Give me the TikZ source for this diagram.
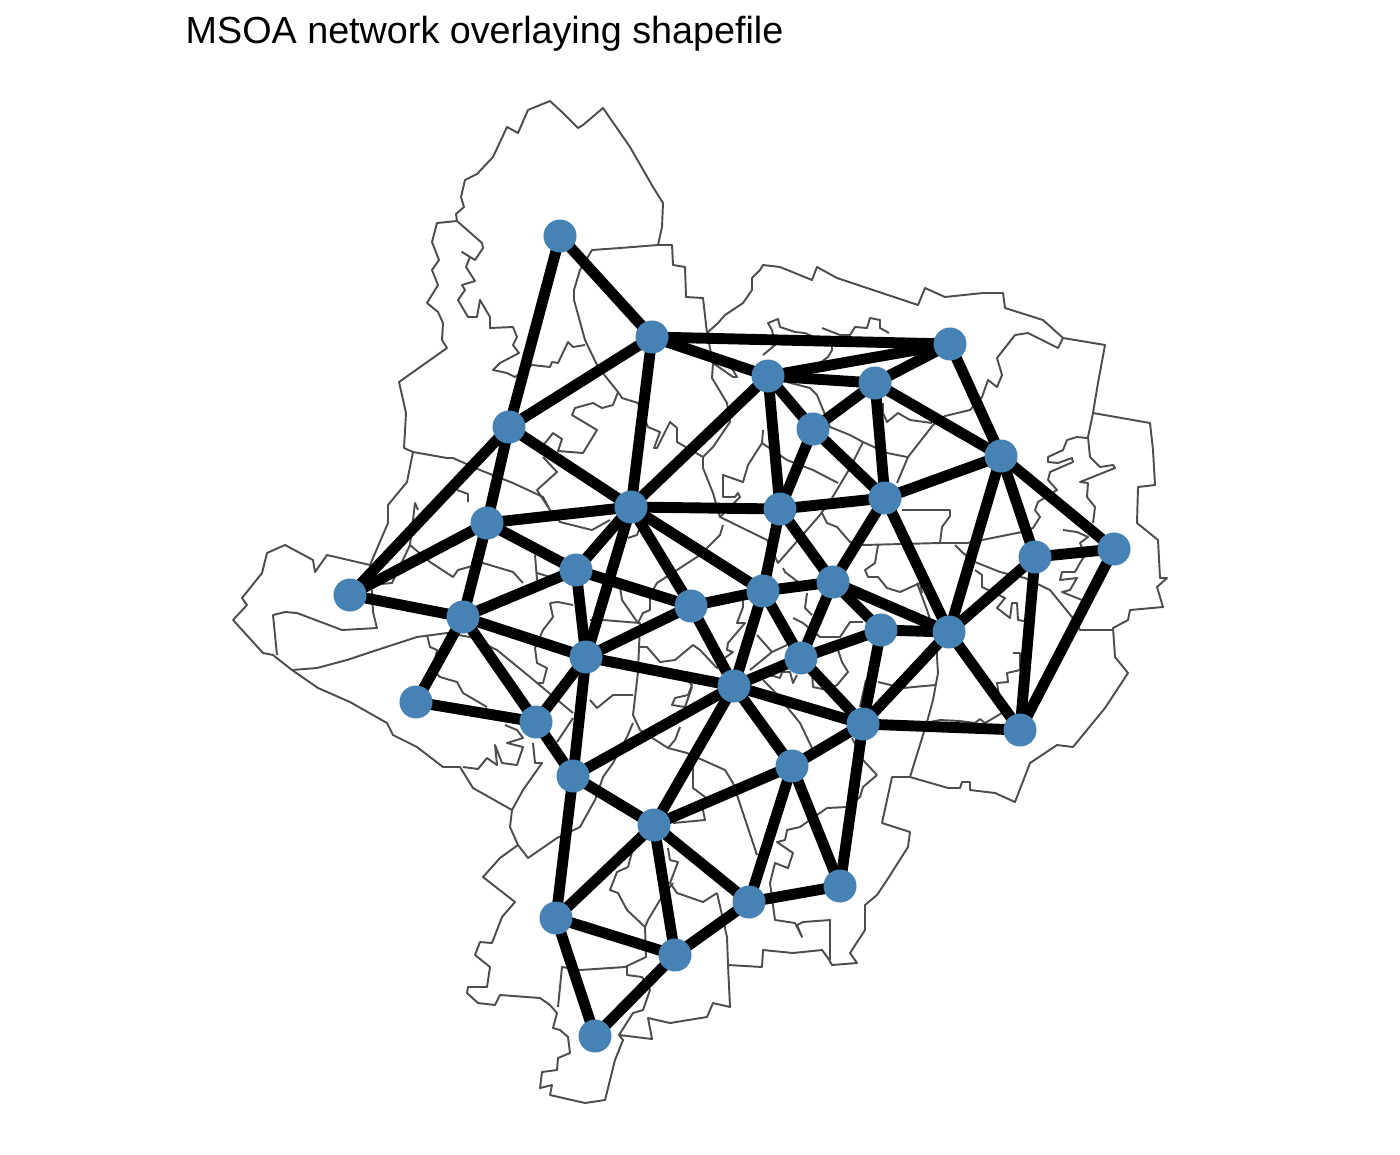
\documentclass[tikz,border=0pt]{standalone}
\usepackage{fontspec}
\setmainfont{Liberation Sans}
\usetikzlibrary{backgrounds}
\definecolor{steelblue}{RGB}{70,130,180}
\definecolor{shapegrey}{RGB}{77,77,77}
\tikzset{
    msoa/.style={circle, fill=steelblue, inner sep=0pt, outer sep=0pt, minimum size=0.33cm},
    link/.style={black, line width=3.1pt, shorten <=-3pt, shorten >=-3pt},
    boundary/.style={shapegrey, line width=0.55pt, line join=round},
    heading/.style={anchor=base west, inner sep=0pt, font=\fontsize{10.73pt}{12pt}\selectfont}
}

\begin{document}
\begin{tikzpicture}[x=0.01cm, y=-0.01cm]

    \useasboundingbox (0,0) rectangle (1400,1154);

    % ── Title ────────────────────────────────────────────────────────────────
    \node[heading] (title) at (185,43) {MSOA network overlaying shapefile};

    % ── Stations ─────────────────────────────────────────────────────────────
    \foreach \name/\px/\py in {
        n1/560/236, n2/652/337, n3/950/344, n4/768/376, n5/875/383, n6/813/429, n7/1001/456,
        n8/509/427, n9/885/498, n10/631/507, n11/780/509, n12/487/523, n13/1035/557, n14/1114/549,
        n15/576/570, n16/350/595, n17/763/591, n18/833/582, n19/691/606, n20/463/617, n21/881/630,
        n22/949/632, n23/586/657, n24/801/658, n25/734/686, n26/416/702, n27/536/722, n28/863/724,
        n29/1020/730, n30/792/766, n31/573/776, n32/654/825, n33/840/886, n34/749/902, n35/556/918,
        n36/675/955, n37/595/1036}
        \node[msoa] (\name) at (\px,\py) {};

    \begin{scope}[on background layer]

    % ── Shapefile: outer boundary ────────────────────────────────────────────
    \draw[boundary] (404,448) -- (406,413) -- (399,382) -- (423,365) -- (447,348) -- (442,340) -- (443,323)
        -- (438,312) -- (427,303) -- (438,285) -- (432,270) -- (439,260) -- (432,242) -- (437,223) -- (457,221)
        -- (456,214) -- (464,207) -- (461,197) -- (465,180) -- (477,174) -- (493,157) -- (507,127) -- (518,133)
        -- (528,110) -- (550,101) -- (563,113) -- (578,128) -- (583,125) -- (603,108) -- (630,147) -- (653,187)
        -- (663,203) -- (662,227) -- (658,245) -- (672,245) -- (673,265) -- (685,267) -- (686,297) -- (703,298)
        -- (707,333) -- (718,323) -- (725,315) -- (743,303) -- (752,290) -- (752,278) -- (760,270) -- (763,265)
        -- (780,267) -- (812,280) -- (817,267) -- (837,278) -- (918,305) -- (925,288) -- (945,297) -- (983,293)
        -- (1003,293) -- (1005,308) -- (1043,320) -- (1063,338) -- (1105,345) -- (1098,383) -- (1093,413)
        -- (1150,423) -- (1153,450) -- (1155,485) -- (1138,487) -- (1137,523) -- (1158,540) -- (1160,578)
        -- (1167,578) -- (1157,587) -- (1163,607) -- (1130,610) -- (1128,620) -- (1113,628) -- (1115,657)
        -- (1128,673) -- (1105,708) -- (1073,747) -- (1057,745) -- (1030,763) -- (1015,802) -- (995,793)
        -- (970,790) -- (970,782) -- (962,782) -- (960,788) -- (948,788) -- (910,777) -- (892,777) -- (882,823)
        -- (910,832) -- (908,847) -- (887,880) -- (877,895) -- (865,905) -- (865,930) -- (850,953) -- (857,963)
        -- (832,965) -- (828,958) -- (822,950) -- (793,953) -- (763,950) -- (762,967) -- (728,965) -- (730,1007)
        -- (713,1003) -- (707,1017) -- (670,1023) -- (648,1018) -- (652,1039) -- (619,1035) -- (623,1040)
        -- (615,1060) -- (605,1100) -- (585,1103) -- (550,1095) -- (552,1085) -- (540,1088) -- (542,1072)
        -- (557,1070) -- (558,1058) -- (570,1053) -- (568,1037) -- (560,1030) -- (553,1028) -- (557,1013)
        -- (550,1005) -- (540,998) -- (500,995) -- (495,1005) -- (478,1003) -- (467,993) -- (468,987) -- (487,987)
        -- (490,967) -- (475,955) -- (480,942) -- (492,943) -- (502,917) -- (515,902) -- (483,877) -- (500,858)
        -- (518,845) -- (510,827) -- (512,810) -- (473,788) -- (460,767) -- (443,767) -- (417,747) -- (393,735)
        -- (387,723) -- (350,702) -- (318,688) -- (292,670) -- (273,655) -- (263,653) -- (233,620) -- (247,605)
        -- (242,598) -- (262,573) -- (267,553) -- (285,545) -- (313,560) -- (315,572) -- (327,555) -- (370,565)
        -- (388,523) -- (388,505) -- (407,482) -- (413,452) -- cycle;

    % ── Shapefile: inner boundaries, north ───────────────────────────────────
    \draw[boundary] (413,452) -- (447,458) -- (453,458) -- (480,470) -- (513,483) -- (543,497) -- (550,510)
        -- (560,522) -- (592,530) -- (610,520);
    \draw[boundary] (658,245) -- (620,248) -- (592,250) -- (580,270) -- (574,290) -- (574,300) -- (585,340)
        -- (598,367) -- (618,392) -- (622,398) -- (638,403) -- (648,427) -- (660,432) -- (654,448) -- (657,448)
        -- (670,422) -- (677,428) -- (677,442) -- (703,457) -- (703,468) -- (713,493) -- (720,517) -- (767,540)
        -- (778,563) -- (785,555) -- (820,515);
    \draw[boundary] (457,221) -- (482,243) -- (483,248) -- (475,260) -- (462,252) -- (470,257) -- (466,267)
        -- (475,281) -- (462,285) -- (465,290) -- (458,300) -- (468,317) -- (477,317) -- (480,300) -- (490,317)
        -- (490,328) -- (513,327) -- (517,337) -- (513,345) -- (519,353) -- (500,363) -- (493,370) -- (507,373)
        -- (515,377) -- (532,365) -- (550,367) -- (552,362) -- (558,363) -- (568,342) -- (573,347) -- (585,345);
    \draw[boundary] (540,450) -- (545,443) -- (553,433) -- (562,439) -- (558,451) -- (583,453) -- (597,430)
        -- (572,415) -- (575,408) -- (593,403) -- (602,408) -- (613,405) -- (618,392);
    \draw[boundary] (543,457) -- (557,472) -- (537,490) -- (548,507);
    \draw[boundary] (707,333) -- (713,363) -- (712,378) -- (727,403) -- (730,422) -- (713,447) -- (703,457);
    \draw[boundary] (713,363) -- (733,377) -- (737,377) -- (730,365);
    \draw[boundary] (772,330) -- (768,323) -- (778,319) -- (780,327) -- (795,332) -- (805,333);
    \draw[boundary] (822,328) -- (840,335) -- (850,335) -- (855,327) -- (867,328) -- (870,318) -- (880,320)
        -- (880,328) -- (889,333);
    \draw[boundary] (772,330) -- (775,345) -- (763,355);
    \draw[boundary] (805,333) -- (832,345) -- (832,350) -- (828,357) -- (820,363);
    \draw[boundary] (787,382) -- (810,388) -- (817,395) -- (830,427) -- (850,435) -- (863,442) -- (887,453)
        -- (907,457);
    \draw[boundary] (763,430) -- (762,443) -- (748,465) -- (743,482) -- (723,475) -- (723,497) -- (735,497)
        -- (738,493) -- (740,497) -- (720,517);
    \draw[boundary] (762,443) -- (787,460) -- (813,470) -- (838,483);
    \draw[boundary] (863,442) -- (850,468) -- (832,498) -- (820,515) -- (822,513) -- (827,523) -- (837,527)
        -- (850,542) -- (863,545) -- (940,543) -- (967,543) -- (1022,532) -- (1033,528) -- (1040,517) -- (1035,510)
        -- (1038,502) -- (1057,490) -- (1048,480) -- (1050,472) -- (1073,462) -- (1072,458) -- (1058,463)
        -- (1048,462) -- (1048,457) -- (1063,450) -- (1067,440) -- (1077,437) -- (1087,438);
    \draw[boundary] (883,403) -- (883,413) -- (887,422) -- (898,413) -- (910,420) -- (932,423);

    % ── Shapefile: inner boundaries, east ────────────────────────────────────
    \draw[boundary] (897,483) -- (908,457) -- (933,425) -- (945,416) -- (970,410) -- (982,397) -- (988,380)
        -- (997,387) -- (1002,375) -- (997,358) -- (1015,335) -- (1028,333) -- (1058,348) -- (1063,338);
    \draw[boundary] (902,510) -- (950,510) -- (950,516) -- (942,527) -- (940,543);
    \draw[boundary] (1093,413) -- (1088,437) -- (1090,457) -- (1100,467) -- (1113,465) -- (1115,468) -- (1080,482)
        -- (1088,483) -- (1087,497) -- (1095,507) -- (1093,523);
    \draw[boundary] (1063,530) -- (1077,532) -- (1088,537) -- (1080,543) -- (1085,555) -- (1080,563) -- (1075,572)
        -- (1062,572) -- (1060,580) -- (1077,578) -- (1070,590) -- (1062,592) -- (1082,600);
    \draw[boundary] (955,545) -- (963,553) -- (975,562) -- (1000,572) -- (1025,578) -- (1050,590) -- (1072,617)
        -- (1080,630) -- (1113,630);
    \draw[boundary] (975,570) -- (982,575) -- (982,587) -- (1005,598) -- (997,608) -- (1010,618) -- (1012,603)
        -- (1017,603) -- (1018,620) -- (1030,622);
    \draw[boundary] (1013,653) -- (1020,653) -- (1020,670) -- (1007,673) -- (1008,682) -- (997,683) -- (1002,713)
        -- (985,723) -- (980,719) -- (975,723) -- (960,721) -- (940,720) -- (930,722);
    \draw[boundary] (917,583) -- (927,610) -- (937,640) -- (937,657) -- (938,673) -- (933,700) -- (927,722)
        -- (910,777);
    \draw[boundary] (878,682) -- (903,688) -- (935,685);
    \draw[boundary] (878,545) -- (875,563) -- (865,570) -- (868,577) -- (878,577) -- (887,588) -- (900,592)
        -- (920,583) -- (922,593);
    \draw[boundary] (860,707) -- (866,680);
    \draw[boundary] (852,738) -- (863,760) -- (877,775);
    \draw[boundary] (847,807) -- (860,797) -- (863,787) -- (877,775);

    % ── Shapefile: inner boundaries, centre ──────────────────────────────────
    \draw[boundary] (723,525) -- (720,535) -- (700,555) -- (677,570) -- (657,583) -- (650,595) -- (650,610)
        -- (643,613) -- (638,623) -- (622,600) -- (620,587);
    \draw[boundary] (590,620) -- (603,620) -- (640,623) -- (638,672) -- (633,715) -- (640,730) -- (668,748)
        -- (687,753) -- (725,770) -- (733,783) -- (753,843) -- (757,855);
    \draw[boundary] (640,647) -- (647,647) -- (660,662) -- (675,660) -- (693,645) -- (700,650) -- (717,668)
        -- (722,660) -- (733,652) -- (727,650) -- (728,643) -- (745,623) -- (737,623) -- (743,607) -- (743,590);
    \draw[boundary] (677,670) -- (692,685) -- (688,695) -- (675,698) -- (672,705) -- (685,707) -- (692,687);
    \draw[boundary] (590,700) -- (597,708) -- (613,695) -- (633,695);
    \draw[boundary] (680,727) -- (675,740) -- (668,748);
    \draw[boundary] (763,680) -- (773,690) -- (787,707) -- (800,723) -- (812,748);
    \draw[boundary] (770,675) -- (780,678) -- (782,672) -- (790,672) -- (793,683) -- (797,675);
    \draw[boundary] (838,650) -- (842,662) -- (848,672) -- (837,685) -- (827,690) -- (813,687) -- (812,672);
    \draw[boundary] (793,618) -- (803,623) -- (820,637) -- (840,637) -- (850,622) -- (863,622);
    \draw[boundary] (807,593) -- (805,608) -- (812,615);
    \draw[boundary] (783,568) -- (785,572) -- (802,585);
    \draw[boundary] (757,635) -- (772,652) -- (787,645);
    \draw[boundary] (772,652) -- (750,670);
    \draw[boundary] (628,538) -- (637,535) -- (640,527);
    \draw[boundary] (537,573) -- (560,580);
    \draw[boundary] (550,603) -- (558,602) -- (573,605);
    \draw[boundary] (550,603) -- (553,617) -- (543,630) -- (535,648) -- (537,663) -- (547,668) -- (543,683)
        -- (538,683);
    \draw[boundary] (535,555) -- (537,580);

    % ── Shapefile: inner boundaries, west ────────────────────────────────────
    \draw[boundary] (372,590) -- (373,612) -- (377,628) -- (342,630) -- (297,613) -- (285,612) -- (273,615)
        -- (277,655);
    \draw[boundary] (370,585) -- (392,583) -- (410,545) -- (430,562) -- (453,577) -- (458,570) -- (483,563)
        -- (513,572) -- (523,583);
    \draw[boundary] (410,545) -- (415,503) -- (418,510);
    \draw[boundary] (457,490) -- (468,494) -- (468,502);
    \draw[boundary] (292,670) -- (317,668) -- (347,660) -- (377,650) -- (417,637) -- (447,633) -- (470,637)
        -- (497,650) -- (530,677) -- (573,713);
    \draw[boundary] (427,635) -- (430,647) -- (437,650) -- (433,670) -- (440,677) -- (457,682) -- (463,693)
        -- (487,707);
    \draw[boundary] (463,767) -- (478,769) -- (487,758) -- (497,765) -- (495,745) -- (502,763) -- (517,765)
        -- (523,747) -- (507,743) -- (523,738) -- (517,730) -- (505,725);
    \draw[boundary] (533,743) -- (535,763) -- (542,763) -- (523,790) -- (512,810);
    \draw[boundary] (573,718) -- (557,742);

    % ── Shapefile: inner boundaries, south ───────────────────────────────────
    \draw[boundary] (627,737) -- (613,763) -- (603,777) -- (595,800) -- (580,827) -- (557,838) -- (528,858)
        -- (518,845);
    \draw[boundary] (627,737) -- (633,723);
    \draw[boundary] (693,767) -- (693,788) -- (705,797) -- (703,810) -- (705,820) -- (673,823);
    \draw[boundary] (827,808) -- (847,807);
    \draw[boundary] (827,808) -- (800,827) -- (787,830) -- (785,840) -- (777,842) -- (793,853) -- (788,868)
        -- (775,863) -- (770,883) -- (775,920) -- (795,923) -- (802,937) -- (797,925) -- (803,922) -- (830,920)
        -- (830,960);
    \draw[boundary] (717,893) -- (727,937) -- (728,965);
    \draw[boundary] (717,893) -- (703,902) -- (677,893) -- (670,883) -- (678,862) -- (670,860) -- (668,848);
    \draw[boundary] (673,883) -- (660,900) -- (648,920) -- (645,927) -- (627,910) -- (618,893) -- (610,890)
        -- (617,872) -- (628,867) -- (632,852) -- (640,840);
    \draw[boundary] (645,927) -- (646,957) -- (625,967) -- (580,970) -- (562,967) -- (558,1007);
    \draw[boundary] (627,967) -- (627,975) -- (642,977) -- (650,990) -- (643,1010) -- (633,1013) -- (619,1035);

    % ── Network links ────────────────────────────────────────────────────────
    \foreach \from/\to in {
        n1/n2, n1/n8, n2/n3, n2/n4, n2/n8, n2/n10, n3/n4, n3/n5, n3/n7, n4/n5, n4/n6, n4/n10, n4/n11,
        n5/n6, n5/n7, n5/n9, n6/n9, n6/n11, n7/n9, n7/n13, n7/n14, n7/n22, n8/n10, n8/n12, n8/n16,
        n9/n11, n9/n18, n9/n22, n10/n11, n10/n12, n10/n15, n10/n17, n10/n19, n10/n23, n11/n17, n11/n18,
        n12/n15, n12/n16, n12/n20, n13/n14, n13/n22, n13/n29, n14/n29, n15/n19, n15/n20, n15/n23,
        n16/n20, n17/n18, n17/n19, n17/n24, n17/n25, n18/n21, n18/n22, n18/n24, n19/n23, n19/n25,
        n20/n23, n20/n26, n20/n27, n21/n22, n21/n24, n21/n28, n22/n28, n22/n29, n23/n25, n23/n27,
        n23/n31, n24/n25, n24/n28, n25/n28, n25/n30, n25/n31, n25/n32, n26/n27, n27/n31, n28/n29,
        n28/n30, n28/n33, n30/n32, n30/n33, n30/n34, n31/n32, n31/n35, n32/n34, n32/n35, n32/n36,
        n33/n34, n34/n36, n35/n36, n35/n37, n36/n37}
        \draw[link] (\from) -- (\to);

    \end{scope}

\end{tikzpicture}
\end{document}
